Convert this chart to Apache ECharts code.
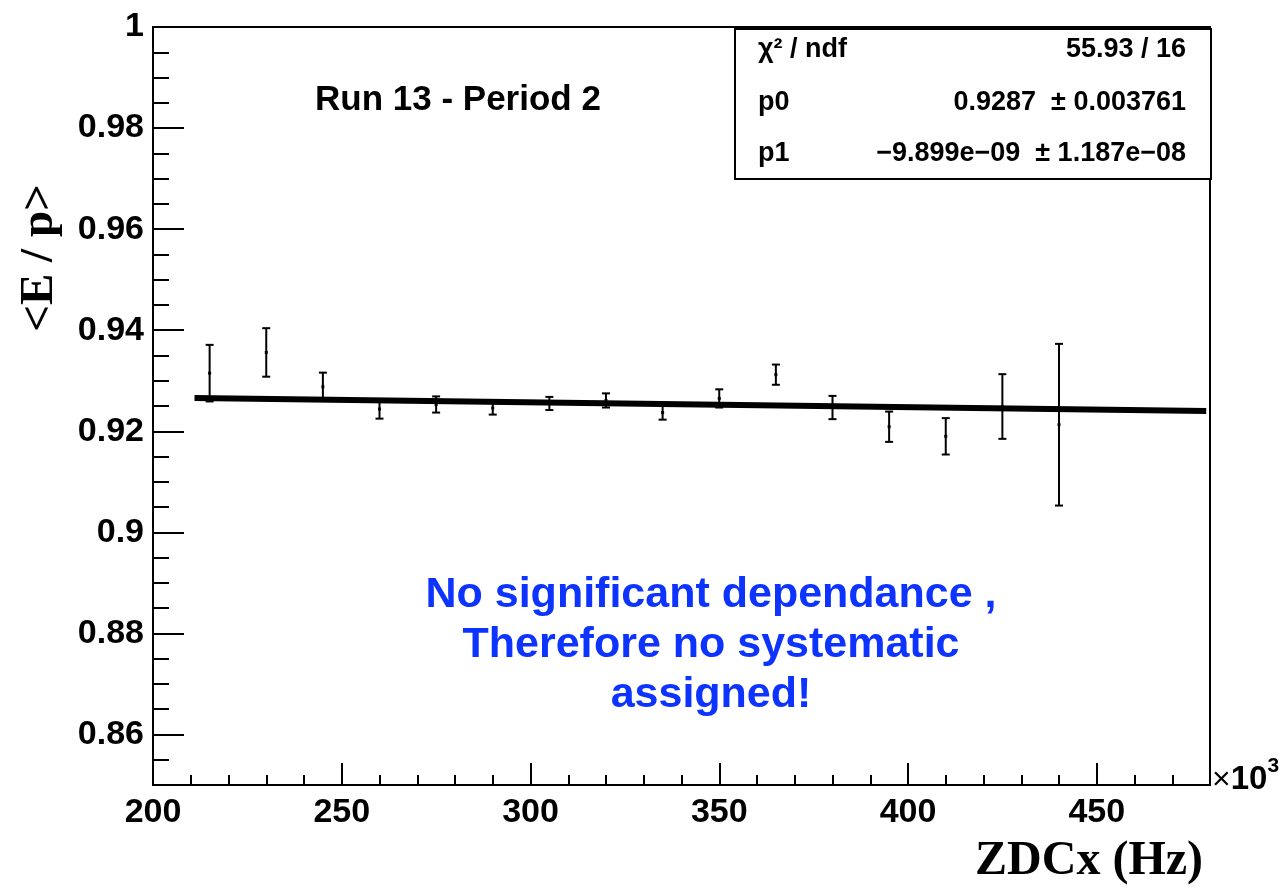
<!DOCTYPE html>
<html>
<head>
<meta charset="utf-8">
<script src="https://cdn.jsdelivr.net/npm/echarts@6/dist/echarts.min.js"></script>
<style>
html,body{margin:0;padding:0;background:#fff;}
#chart{width:1285px;height:889px;}
</style>
</head>
<body>
<div id="chart"></div>
<script>
// ---- data ----
const zdcX = [215, 230, 245, 260, 275, 290, 305, 320, 335, 350, 365, 380, 395, 410, 425, 440]; // x10^3 Hz
const meanEp = [0.9315, 0.9356, 0.9288, 0.9244, 0.9253, 0.9246, 0.9255, 0.9261, 0.9237, 0.9265, 0.9312, 0.9247, 0.9209, 0.9190, 0.9249, 0.9213];
const meanEpErr = [0.0056, 0.0048, 0.0028, 0.0019, 0.0016, 0.0013, 0.0013, 0.0014, 0.0014, 0.0018, 0.0020, 0.0023, 0.0030, 0.0036, 0.0064, 0.0160];
const fitX = [211, 479];
const fitY = [0.9266, 0.9240];
const xTickLabels = [200, 250, 300, 350, 400, 450];
const xMinorTicks = [210, 220, 230, 240, 260, 270, 280, 290, 310, 320, 330, 340, 360, 370, 380, 390, 410, 420, 430, 440, 460, 470];
const yTickLabels = [0.86, 0.88, 0.9, 0.92, 0.94, 0.96, 0.98, 1];
const yMinorTicks = [0.855, 0.865, 0.87, 0.875, 0.885, 0.89, 0.895, 0.905, 0.91, 0.915, 0.925, 0.93, 0.935, 0.945, 0.95, 0.955, 0.965, 0.97, 0.975, 0.985, 0.99, 0.995];
const statsRows = [
  ['χ² / ndf', '55.93 / 16'],
  ['p0', '0.9287  ± 0.003761'],
  ['p1', '−9.899e−09  ± 1.187e−08']
];
const titleText = 'Run 13 - Period 2';
const noteLines = ['No significant dependance ,', 'Therefore no systematic', 'assigned!'];

const SANS = '"Liberation Sans", Arial, sans-serif';
const SERIF = '"Liberation Serif", "Times New Roman", serif';

const chart = echarts.init(document.getElementById('chart'), null, {renderer: 'canvas'});

const points = zdcX.map((x, i) => [x, meanEp[i], meanEpErr[i]]);
const fitLine = fitX.map((x, i) => [x, fitY[i]]);

const axisCommon = {
  type: 'value',
  splitLine: {show: false},
};

const graphics = [];
// stats box
graphics.push({
  type: 'rect', left: 734, top: 28, z: 100,
  shape: {width: 476, height: 150},
  style: {fill: '#fff', stroke: '#000', lineWidth: 2}
});
const rowY = [50, 103, 154];
statsRows.forEach((r, i) => {
  graphics.push({type: 'text', z: 101, x: 758, y: rowY[i],
    style: {text: r[0], font: 'bold 27px ' + SANS, fill: '#000', align: 'left', verticalAlign: 'middle'}});
  graphics.push({type: 'text', z: 101, x: 1186, y: rowY[i],
    style: {text: r[1], font: 'bold 27px ' + SANS, fill: '#000', align: 'right', verticalAlign: 'middle'}});
});
// title text
graphics.push({type: 'text', x: 315, y: 100,
  style: {text: titleText, font: 'bold 35px ' + SANS, fill: '#000', align: 'left', verticalAlign: 'middle'}});
// blue note
noteLines.forEach((t, i) => {
  graphics.push({type: 'text', x: 711, y: 595 + i * 50,
    style: {text: t, font: 'bold 43px ' + SANS, fill: '#0d33ff', align: 'center', verticalAlign: 'middle'}});
});
// y axis title
graphics.push({type: 'text', x: 40, y: 258, rotation: Math.PI / 2,
  style: {text: '<E / p>', font: 'bold 47px ' + SERIF, fill: '#000', align: 'center', verticalAlign: 'middle'}});
// x axis title
graphics.push({type: 'text', x: 1203, y: 862,
  style: {text: 'ZDCx (Hz)', font: 'bold 48px ' + SERIF, fill: '#000', align: 'right', verticalAlign: 'middle'}});
// x10^3
graphics.push({type: 'text', x: 1212, y: 776,
  style: {
    text: '{a|×}{b|10}{c|3}',
    verticalAlign: 'middle', align: 'left',
    rich: {
      a: {font: '32px ' + SANS, fill: '#000', verticalAlign: 'bottom'},
      b: {font: 'bold 33px ' + SANS, fill: '#000', verticalAlign: 'bottom'},
      c: {font: 'bold 21px ' + SANS, fill: '#000', verticalAlign: 'top', padding: [0, 0, 20, 0]}
    }
  }});

const option = {
  backgroundColor: '#fff',
  animation: false,
  grid: {left: 153, right: 75, top: 27, bottom: 104, show: true, borderColor: '#000', borderWidth: 2, backgroundColor: 'transparent'},
  xAxis: [
    Object.assign({}, axisCommon, {
      min: 200, max: 480, position: 'bottom',
      axisLine: {show: true, onZero: false, lineStyle: {color: '#000', width: 2}},
      axisTick: {show: true, inside: true, length: 22, customValues: xTickLabels, lineStyle: {color: '#000', width: 2}},
      axisLabel: {show: true, customValues: xTickLabels, margin: 11, color: '#000', fontFamily: SANS, fontWeight: 'bold', fontSize: 34}
    }),
    Object.assign({}, axisCommon, {
      min: 200, max: 480, position: 'bottom',
      axisLine: {show: false},
      axisTick: {show: true, inside: true, length: 10, customValues: xMinorTicks, lineStyle: {color: '#000', width: 2}},
      axisLabel: {show: false}
    })
  ],
  yAxis: [
    Object.assign({}, axisCommon, {
      min: 0.85, max: 1.0, position: 'left',
      axisLine: {show: true, onZero: false, lineStyle: {color: '#000', width: 2}},
      axisTick: {show: true, inside: true, length: 31, customValues: yTickLabels, lineStyle: {color: '#000', width: 2}},
      axisLabel: {show: true, customValues: yTickLabels, margin: 9, color: '#000', fontFamily: SANS, fontWeight: 'bold', fontSize: 34,
        formatter: v => String(+(+v).toFixed(3))}
    }),
    Object.assign({}, axisCommon, {
      min: 0.85, max: 1.0, position: 'left',
      axisLine: {show: false},
      axisTick: {show: true, inside: true, length: 16, customValues: yMinorTicks, lineStyle: {color: '#000', width: 2}},
      axisLabel: {show: false}
    })
  ],
  series: [
    {
      type: 'line', data: fitLine, xAxisIndex: 0, yAxisIndex: 0,
      symbol: 'none', lineStyle: {color: '#000', width: 6}, z: 3, silent: true
    },
    {
      type: 'custom', data: points, xAxisIndex: 0, yAxisIndex: 0, z: 4,
      renderItem: function (params, api) {
        const x = api.value(0), y = api.value(1), e = api.value(2);
        const top = api.coord([x, y + e]);
        const bot = api.coord([x, y - e]);
        const c = api.coord([x, y]);
        const hw = 4;
        const st = {stroke: '#000', lineWidth: 2};
        return {
          type: 'group',
          children: [
            {type: 'line', shape: {x1: top[0], y1: top[1], x2: bot[0], y2: bot[1]}, style: st},
            {type: 'line', shape: {x1: top[0] - hw, y1: top[1], x2: top[0] + hw, y2: top[1]}, style: st},
            {type: 'line', shape: {x1: bot[0] - hw, y1: bot[1], x2: bot[0] + hw, y2: bot[1]}, style: st},
            {type: 'rect', shape: {x: c[0] - 1.5, y: c[1] - 1.5, width: 3, height: 3}, style: {fill: '#000'}}
          ]
        };
      }
    }
  ],
  graphic: graphics
};
chart.setOption(option);
</script>
</body>
</html>
